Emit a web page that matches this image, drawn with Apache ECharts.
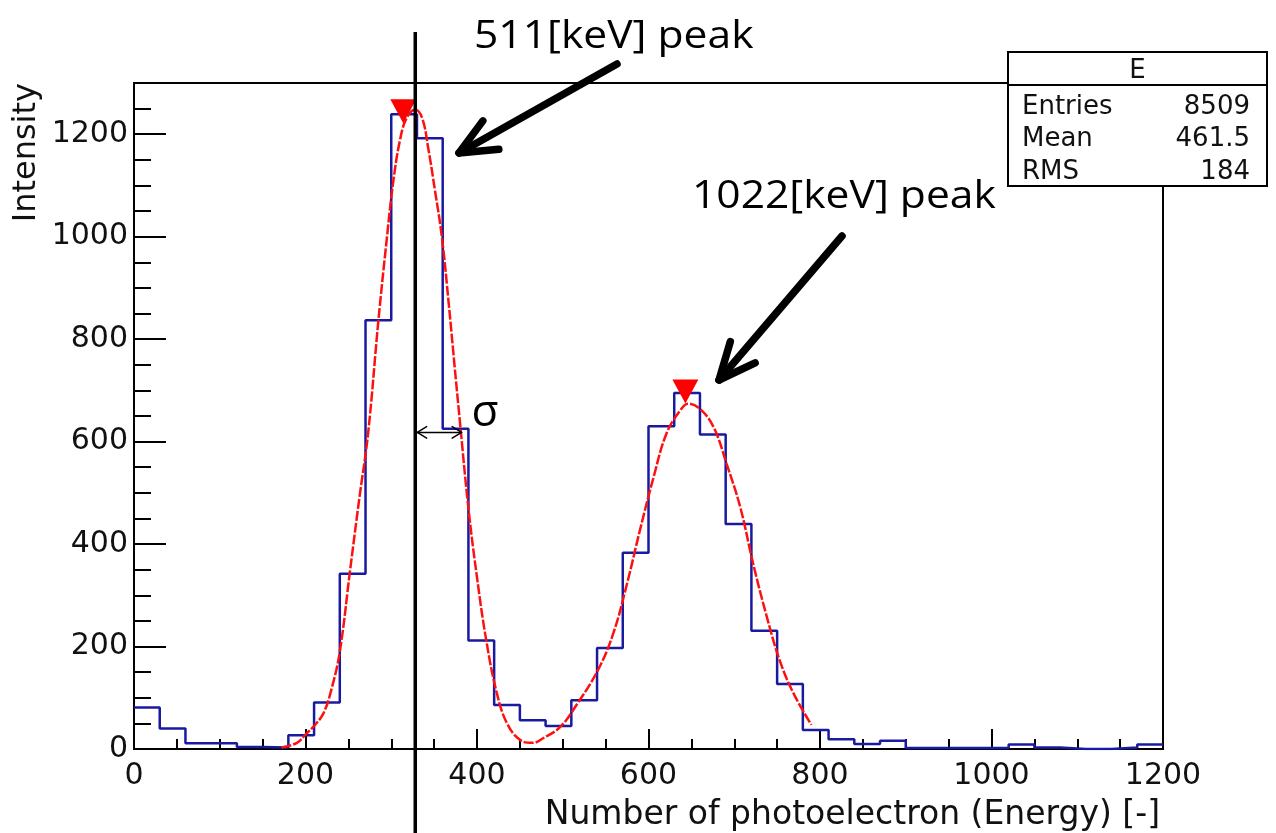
<!DOCTYPE html>
<html>
<head>
<meta charset="utf-8">
<script src="https://cdn.jsdelivr.net/npm/echarts@6/dist/echarts.min.js"></script>
<style>
html, body { margin: 0; padding: 0; background: #ffffff; }
#hist-chart { width: 1276px; height: 833px; }
</style>
</head>
<body>
<div id="hist-chart"></div>
<script>
// histogram "E": 40 bins of 30 from 0 to 1200
var binEdges = [0, 30, 60, 90, 120, 150, 180, 210, 240, 270, 300, 330, 360, 390, 420, 450, 480, 510, 540, 570,
  600, 630, 660, 690, 720, 750, 780, 810, 840, 870, 900, 930, 960, 990, 1020, 1050, 1080, 1110, 1140, 1170, 1200];
var counts = [81, 40, 11, 11, 4, 3, 27, 91, 342, 837, 1239, 1192, 625, 212, 86, 56, 45, 95, 197, 383,
  630, 695, 614, 439, 231, 127, 37, 19, 10, 16, 2, 2, 2, 2, 9, 3, 0, 0, 3, 9];

// fitted curve (red)
var fitX = [172, 190, 201, 210, 221, 230, 240, 252, 263, 273, 285, 295, 302, 310, 318, 328, 336, 343, 351, 359,
  367, 374, 380, 390, 400, 411, 423, 435, 450, 465, 477, 497, 516, 541, 559, 575, 590, 606, 621, 637,
  646, 660, 676, 691, 707, 722, 738, 753, 769, 790];
var fitY = [3, 12, 30, 45, 70, 115, 190, 349, 492, 616, 836, 999, 1103, 1187, 1232, 1248, 1232, 1174, 1090, 1000,
  870, 745, 640, 470, 335, 210, 110, 50, 18, 12, 21, 43, 86, 154, 226, 323, 427, 531, 616, 661,
  674, 664, 628, 557, 472, 362, 258, 173, 109, 47];

// peak markers
var peakX = [314, 643];
var peakY = [1245, 698];

// 511 keV line and sigma
var peakLineX = 328;
var sigmaEndX = 382;
var sigmaY = 618;

var statsTitle = 'E';
var statsNames = ['Entries', 'Mean', 'RMS'];
var statsValues = ['8509', '461.5', '184'];

var rootFont = 'DejaVu Sans';
var noteFont = 'Open Sans';

var histData = [];
for (var i = 0; i < counts.length; i++) {
  histData.push([binEdges[i], counts[i]]);
}
histData.push([binEdges[binEdges.length - 1], counts[counts.length - 1]]);

var fitData = fitX.map(function (x, i) { return [x, fitY[i]]; });
var peakData = peakX.map(function (x, i) { return [x, peakY[i]]; });

var chart = echarts.init(document.getElementById('hist-chart'));

var option = {
  backgroundColor: '#ffffff',
  animation: false,
  grid: {
    left: 134,
    right: 113,
    top: 83,
    bottom: 84,
    containLabel: false,
    outerBoundsMode: 'none',
    show: true,
    borderColor: '#000',
    borderWidth: 2,
    backgroundColor: 'transparent'
  },
  xAxis: {
    type: 'value',
    min: 0,
    max: 1200,
    interval: 200,
    name: 'Number of photoelectron (Energy) [-]',
    nameLocation: 'end',
    nameGap: -3,
    nameTextStyle: {
      fontFamily: rootFont,
      fontSize: 33,
      color: '#111',
      align: 'right',
      verticalAlign: 'top',
      padding: [50, 0, 0, 0]
    },
    axisLine: { lineStyle: { color: '#000', width: 2 } },
    axisTick: { inside: true, length: 20, lineStyle: { color: '#000', width: 2 } },
    minorTick: { show: true, splitNumber: 4, length: 10, lineStyle: { color: '#000', width: 2 } },
    splitLine: { show: false },
    axisLabel: {
      fontFamily: rootFont,
      fontSize: 30,
      color: '#111',
      margin: 12,
      formatter: function (v) { return String(v); }
    }
  },
  yAxis: {
    type: 'value',
    min: 0,
    max: 1300,
    interval: 200,
    axisLine: { lineStyle: { color: '#000', width: 2 } },
    axisTick: { inside: true, length: 32, lineStyle: { color: '#000', width: 2 } },
    minorTick: { show: true, splitNumber: 4, length: 17, lineStyle: { color: '#000', width: 2 } },
    splitLine: { show: false },
    axisLabel: {
      fontFamily: rootFont,
      fontSize: 30,
      color: '#111',
      margin: 6,
      showMaxLabel: false,
      formatter: function (v) { return String(v); }
    }
  },
  series: [
    {
      name: 'E',
      type: 'line',
      step: 'end',
      data: histData,
      symbol: 'none',
      lineStyle: { color: '#1a1aa0', width: 2.5 },
      z: 2
    },
    {
      name: 'fit',
      type: 'line',
      data: fitData,
      smooth: 0.4,
      symbol: 'none',
      lineStyle: { color: '#ff1010', width: 2.5, type: [10, 2] },
      z: 3
    },
    {
      name: 'peaks',
      type: 'scatter',
      data: peakData,
      symbol: 'path://M0,0 L20,0 L10,18 Z',
      symbolSize: [26, 24],
      itemStyle: { color: '#ff0000', opacity: 1 },
      z: 4
    }
  ]
};

chart.setOption(option);

function arrow(x1, y1, x2, y2, head, spread, width) {
  var ang = Math.atan2(y2 - y1, x2 - x1);
  var a1 = ang + Math.PI - spread;
  var a2 = ang + Math.PI + spread;
  var st = { stroke: '#000', fill: null, lineWidth: width, lineCap: 'round', lineJoin: 'round' };
  return [
    { type: 'line', shape: { x1: x1, y1: y1, x2: x2, y2: y2 }, style: st, z: 100 },
    {
      type: 'polyline',
      shape: { points: [[x2 + head * Math.cos(a1), y2 + head * Math.sin(a1)], [x2, y2], [x2 + head * Math.cos(a2), y2 + head * Math.sin(a2)]] },
      style: st,
      z: 100
    }
  ];
}

function drawExtras() {
  var p0 = chart.convertToPixel({ gridIndex: 0 }, [peakLineX, 0]);
  var s0 = chart.convertToPixel({ gridIndex: 0 }, [peakLineX, sigmaY]);
  var s1 = chart.convertToPixel({ gridIndex: 0 }, [sigmaEndX, sigmaY]);
  var top = chart.convertToPixel({ gridIndex: 0 }, [0, 1300]);
  var g = [];

  // y axis title, ROOT style: rotated, flush with the top of the frame
  g.push({
    type: 'text', x: 27, y: top[1], rotation: Math.PI / 2,
    style: { text: 'Intensity', font: '32px ' + rootFont, fill: '#111', align: 'right', verticalAlign: 'middle' },
    z: 100
  });

  // vertical line through the 511 keV peak
  g.push({ type: 'line', shape: { x1: p0[0], y1: 32, x2: p0[0], y2: 833 }, style: { stroke: '#000', lineWidth: 3.5 }, z: 90 });

  // sigma double arrow
  var a = arrow(s0[0] + 2, s0[1], s1[0], s1[1], 11, 0.55, 1.5);
  var b = arrow(s1[0], s1[1], s0[0] + 2, s0[1], 11, 0.55, 1.5);
  g = g.concat(a, [b[1]]);
  g.push({ type: 'text', left: s1[0] + 10, top: s1[1] - 41, style: { text: 'σ', font: '44px ' + noteFont, fill: '#000' }, z: 100 });

  // peak labels and arrows
  g.push({ type: 'text', x: 474, y: 37, scaleX: 1.12, style: { text: '511[keV] peak', font: '38px ' + noteFont, fill: '#000', align: 'left', verticalAlign: 'middle' }, z: 100 });
  g.push({ type: 'text', x: 692, y: 197, scaleX: 1.12, style: { text: '1022[keV] peak', font: '38px ' + noteFont, fill: '#000', align: 'left', verticalAlign: 'middle' }, z: 100 });
  g = g.concat(arrow(617, 64, 459, 153, 40, 0.42, 7.5));
  g = g.concat(arrow(842, 236, 719, 380, 40, 0.42, 7.5));

  // stats box
  var bx = 1008, by = 52, bw = 259, bh = 134;
  g.push({ type: 'rect', shape: { x: bx, y: by, width: bw, height: bh }, style: { fill: '#fff', stroke: '#000', lineWidth: 2 }, z: 110 });
  g.push({ type: 'line', shape: { x1: bx, y1: by + 33, x2: bx + bw, y2: by + 33 }, style: { stroke: '#000', lineWidth: 2 }, z: 111 });
  g.push({ type: 'text', x: bx + bw / 2, y: by + 19, style: { text: statsTitle, font: '26px ' + rootFont, fill: '#111', align: 'center', verticalAlign: 'middle' }, z: 111 });
  for (var i = 0; i < statsNames.length; i++) {
    var ty = by + 55 + i * 32.5;
    g.push({ type: 'text', x: bx + 14, y: ty, style: { text: statsNames[i], font: '26px ' + rootFont, fill: '#111', align: 'left', verticalAlign: 'middle' }, z: 111 });
    g.push({ type: 'text', x: bx + bw - 17, y: ty, style: { text: statsValues[i], font: '26px ' + rootFont, fill: '#111', align: 'right', verticalAlign: 'middle' }, z: 111 });
  }

  chart.setOption({ graphic: g });
}

drawExtras();
window.addEventListener('resize', function () {
  chart.resize();
  drawExtras();
});
</script>
</body>
</html>
